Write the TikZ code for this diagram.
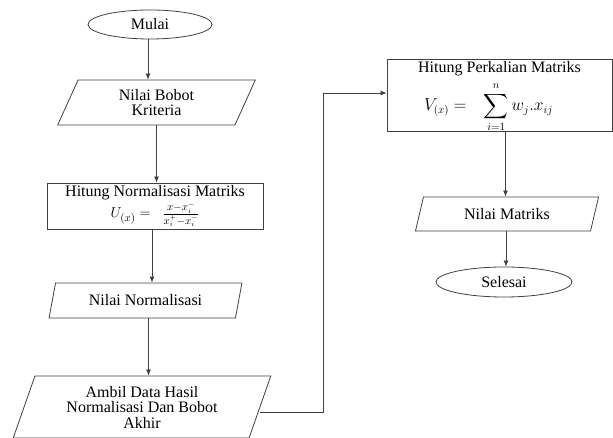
\documentclass[tikz,border=0pt]{standalone}
\usepackage{amsmath}
\usepackage{fontspec}
\setmainfont{Liberation Serif}
\usepackage{tikz}
\usetikzlibrary{arrows.meta, positioning, shapes.geometric}

\begin{document}
\begin{tikzpicture}[
    x=1pt, y=-1pt,
    font=\rmfamily\fontsize{16}{15.5}\selectfont,
    line/.style={draw=black!75, line width=0.8pt},
    terminal/.style={ellipse, line, align=center, inner sep=0pt},
    data/.style={trapezium, trapezium left angle=70, trapezium right angle=110,
      trapezium stretches=true, line, align=center, inner sep=0pt},
    process/.style={rectangle, line, align=center, inner sep=0pt},
    arr/.style={line, -{Latex[length=6pt, width=5pt]}}
  ]
    \useasboundingbox (0,0) rectangle (613,438);

    % nodes
    \node[terminal, minimum width=124pt, minimum height=29pt] (mulai) at (150,24.5) {Mulai};
    \node[data, minimum width=199pt, minimum height=45pt] (bobot) at (156.5,102.5) {Nilai Bobot\\Kriteria};
    \node[process, minimum width=216pt, minimum height=46pt] (norm) at (155,206)
      {Hitung Normalisasi Matriks\\[1pt]
       {\fontsize{15}{16}\selectfont$U_{(x)} = \;\; \frac{x-x_i^-}{x_i^+-x_i^-}$}};
    \node[data, minimum width=193pt, minimum height=35pt] (nnorm) at (145.5,300.5) {Nilai Normalisasi};
    \node[data, minimum width=258pt, minimum height=62pt] (ambil) at (142,407)
      {Ambil Data Hasil\\Normalisasi Dan Bobot\\Akhir};
    \node[process, minimum width=225pt, minimum height=72pt] (kali) at (499.5,95)
      {\raisebox{-2pt}[\height][\depth]{\begin{tabular}{@{}c@{}}
         Hitung Perkalian Matriks\\[5pt]
         {\fontsize{16}{17}\selectfont$V_{(x)} = \;\;\, \displaystyle\sum_{i=1}^{n} w_j . x_{ij}$}\hspace*{22pt}
       \end{tabular}}};
    \node[data, minimum width=184pt, minimum height=34pt] (nmat) at (507,214) {Nilai Matriks};
    \node[terminal, minimum width=136pt, minimum height=30pt] (selesai) at (504,282) {Selesai};

    % flow
    \draw[arr] ([xshift=-2pt]mulai.south) -- ([xshift=-2pt]mulai.south |- bobot.north);
    \draw[arr] (bobot.south) -- (bobot.south |- norm.north);
    \draw[arr] ([xshift=-3pt]norm.south) -- ([xshift=-3pt]norm.south |- nnorm.north);
    \draw[arr] ([xshift=3pt]nnorm.south) -- ([xshift=3pt]nnorm.south |- ambil.north);
    \draw[arr] ([yshift=-5pt]ambil.east) -- ++(63,0) |- ([yshift=2pt]kali.west);
    \draw[arr] ([xshift=6pt]kali.south) -- ([xshift=6pt]kali.south |- nmat.north);
    \draw[arr] ([xshift=-1pt]nmat.south) -- ([xshift=-1pt]nmat.south |- selesai.north);
  \end{tikzpicture}
\end{document}
